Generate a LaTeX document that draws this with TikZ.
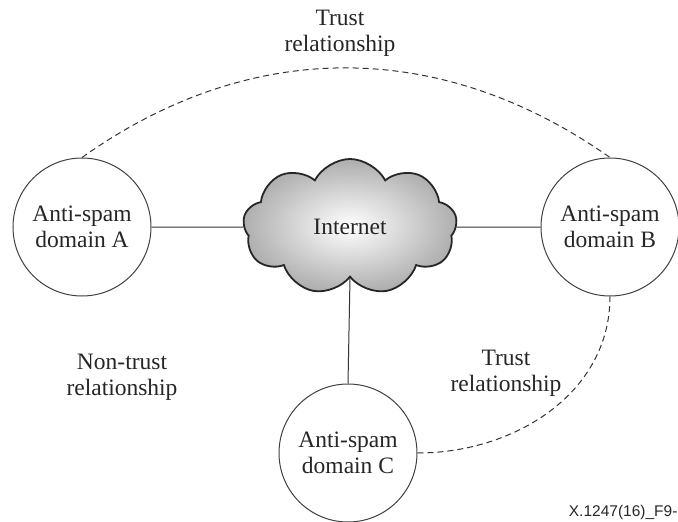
\documentclass[tikz,border=0pt]{standalone}
\usepackage{fontspec}
\setmainfont{Liberation Serif}
\newfontfamily\codefont{Liberation Sans}
\usetikzlibrary{shapes.symbols}
\begin{document}
\begin{tikzpicture}[x=1pt,y=-1pt,
  lbl/.style={font=\fontsize{23.5}{26}\selectfont, align=center, text=black!85},
  spamdomain/.style={circle, draw=black!75, line width=1pt, minimum size=138pt, inner sep=0pt, lbl},
  link/.style={draw=black!80, line width=1pt},
  trust/.style={draw=black!80, line width=1pt, dash pattern=on 6pt off 4pt}]
  \useasboundingbox (0,0) rectangle (678,522);

  % anti-spam domains
  \node[spamdomain] (A) at (82,227) {Anti-spam\\domain A};
  \node[spamdomain] (B) at (610,227) {Anti-spam\\domain B};
  \node[spamdomain] (C) at (348,453) {Anti-spam\\domain C};

  % the Internet cloud
  \node[cloud, cloud puffs=9, cloud puff arc=125, aspect=1.6,
        minimum width=214pt, minimum height=136pt, inner sep=0pt,
        draw=black!85, line width=1.8pt,
        inner color=white, outer color=black!32, lbl] (I) at (350,227) {Internet};

  % physical links
  \draw[link] (A.east) -- (I.west);
  \draw[link] (I.east) -- (B.west);
  \draw[link] (I.south) -- (C.north);

  % trust relationships
  \draw[trust] (A.north) .. controls (250,38) and (440,38) .. (B.north);
  \draw[trust] (C.east) to[out=0, in=-90, looseness=1] (B.south);

  % labels
  \node[lbl] (t1) at (340,33) {Trust\\relationship};
  \node[lbl] (t2) at (506,373) {Trust\\relationship};
  \node[lbl] (nt) at (122,377) {Non-trust\\relationship};
  \node[font=\codefont\fontsize{15.5}{17}\selectfont, anchor=east, text=black!85] (ref) at (681,512) {X.1247(16)\_F9-};
\end{tikzpicture}
\end{document}
